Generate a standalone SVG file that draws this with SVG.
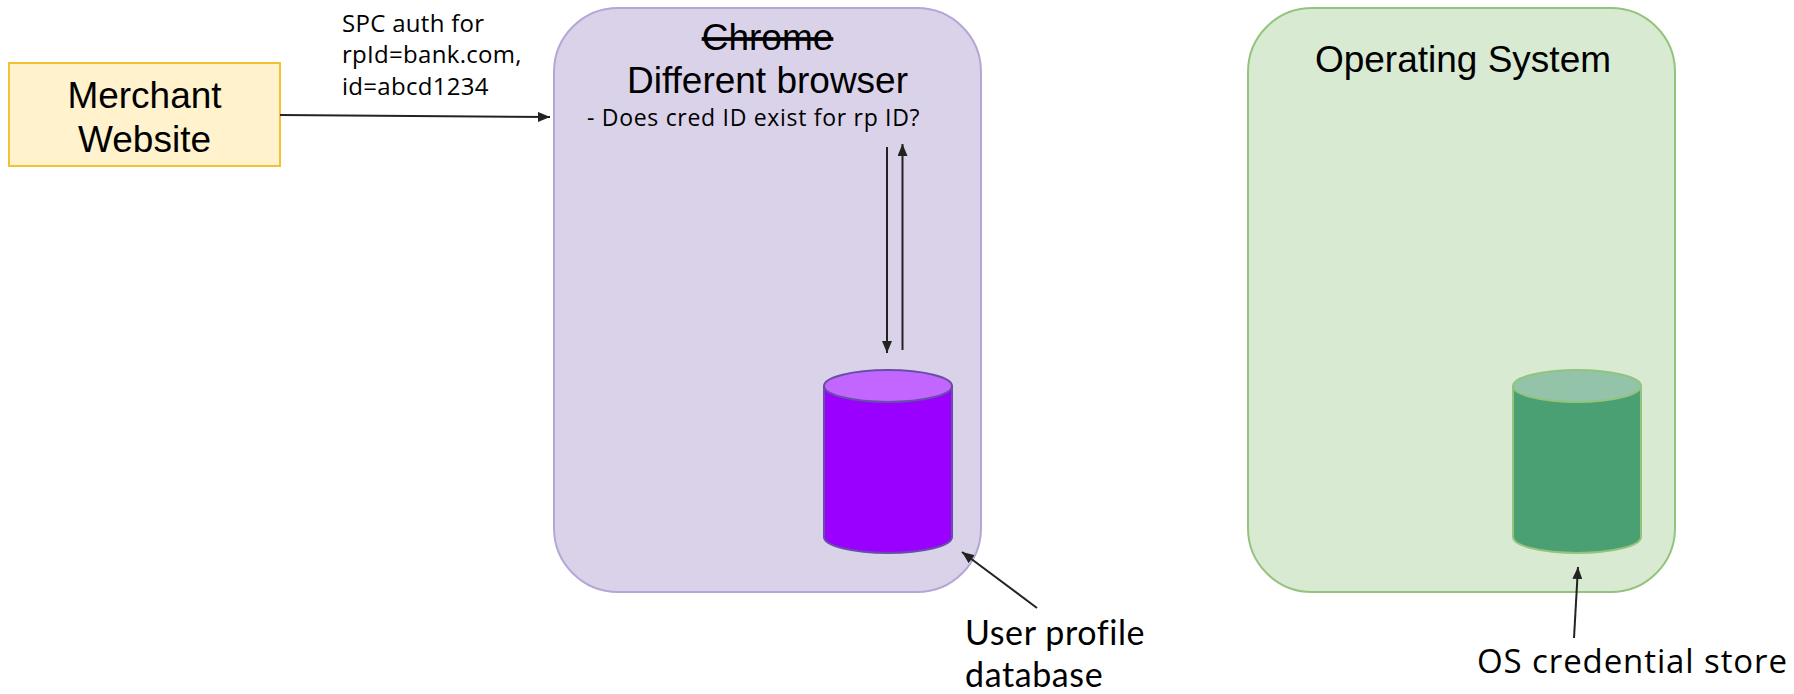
<svg xmlns="http://www.w3.org/2000/svg" width="1794" height="694" viewBox="0 0 1794 694">
<defs>
<style>
.arial{font-family:"Liberation Sans",Arial,sans-serif;fill:#000}
.lato{font-family:"Open Sans",Lato,sans-serif;fill:#000}
.lato2{font-family:Lato,"Open Sans",sans-serif;fill:#000}
.conn{stroke:#222;stroke-width:2;fill:none}
</style>
<marker id="ah" viewBox="0 0 12 10" refX="12" refY="5" markerWidth="12" markerHeight="10" markerUnits="userSpaceOnUse" orient="auto">
<path d="M0,0 L12,5 L0,10 z" fill="#222"/>
</marker>
</defs>
<rect width="1794" height="694" fill="#fff"/>
<g id="merchant">
<rect x="9" y="63" width="271" height="103" fill="#fff2cc" stroke="#f1c232" stroke-width="2"/>
<text class="arial" font-size="37" text-anchor="middle" x="144.5" y="108">Merchant<tspan x="144.5" dy="44">Website</tspan></text>
</g>
<g id="browser">
<rect x="554" y="8" width="427" height="584" rx="64" ry="64" fill="#d9d2e9" stroke="#b4a7d6" stroke-width="2"/>
<text class="arial" font-size="37" text-anchor="middle" x="767.5" y="50" text-decoration="line-through">Chrome</text>
<text class="arial" font-size="37" text-anchor="middle" x="767.5" y="93">Different browser</text>
<text class="lato" font-size="23" x="587" y="126" letter-spacing="0.7">- Does cred ID exist for rp ID?</text>
</g>
<g id="userdb">
<path d="M824,386 L824,537 A64,16 0 0 0 952,537 L952,386 Z" fill="#9900ff" stroke="#674ea7" stroke-width="2"/>
<ellipse cx="888" cy="386" rx="64" ry="16" fill="#c266ff" stroke="#674ea7" stroke-width="2"/>
</g>
<g id="os">
<rect x="1248" y="8" width="427" height="584" rx="64" ry="64" fill="#d9ead3" stroke="#93c47d" stroke-width="2"/>
<text class="arial" font-size="37" text-anchor="middle" x="1463" y="72">Operating System</text>
</g>
<g id="osstore">
<path d="M1513,386 L1513,537 A64,16 0 0 0 1641,537 L1641,386 Z" fill="#4aa073" stroke="#93c47d" stroke-width="2"/>
<ellipse cx="1577" cy="386" rx="64" ry="16" fill="#93c4aa" stroke="#93c47d" stroke-width="2"/>
</g>
<g id="labels">
<text class="lato" font-size="24" x="342" y="32" letter-spacing="0.3">SPC auth for<tspan x="342" dy="31">rpId=bank.com,</tspan><tspan x="342" dy="32">id=abcd1234</tspan></text>
<text class="lato2" font-size="34" x="965" y="645" letter-spacing="0.6">User profile<tspan x="965" dy="41.5">database</tspan></text>
<text class="lato" font-size="33" x="1477" y="673" letter-spacing="0.9">OS credential store</text>
</g>
<g id="connectors">
<line class="conn" x1="280" y1="115" x2="550" y2="117" marker-end="url(#ah)"/>
<line class="conn" x1="887" y1="147" x2="887" y2="353" marker-end="url(#ah)"/>
<line class="conn" x1="902.5" y1="350" x2="902.5" y2="144" marker-end="url(#ah)"/>
<line class="conn" x1="1037" y1="608" x2="962" y2="552" marker-end="url(#ah)"/>
<line class="conn" x1="1574" y1="638" x2="1578" y2="567" marker-end="url(#ah)"/>
</g>
</svg>
